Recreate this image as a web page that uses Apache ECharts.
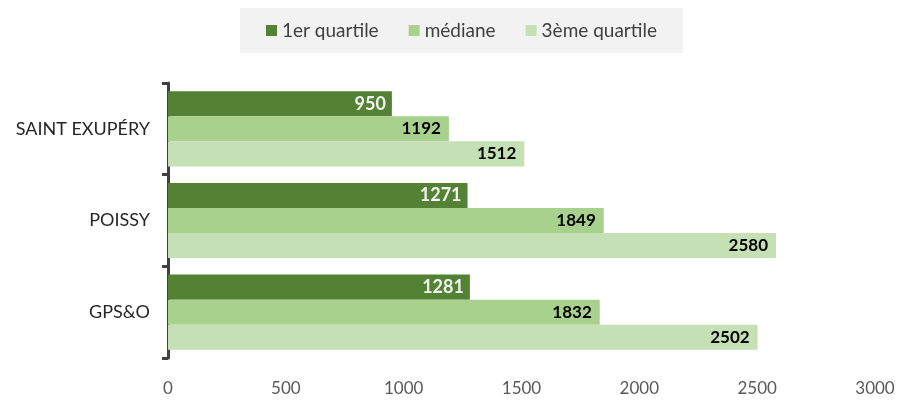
<!DOCTYPE html>
<html>
<head>
<meta charset="utf-8">
<script src="https://cdn.jsdelivr.net/npm/echarts@6/dist/echarts.min.js"></script>
<style>
  html, body { margin: 0; padding: 0; background: #fff; }
  #chart { width: 899px; height: 401px; }
</style>
</head>
<body>
<div id="chart"></div>
<script>
// données
const categories = ['SAINT EXUPÉRY', 'POISSY', 'GPS&O']
const q1 = [950, 1271, 1281]
const mediane = [1192, 1849, 1832]
const q3 = [1512, 2580, 2502]
const xTicks = [0, 500, 1000, 1500, 2000, 2500, 3000]

const font = 'Lato, "Open Sans", sans-serif'

let myChart = echarts.init(document.getElementById('chart'))
myChart.setOption({
  animation: false,
  textStyle: { fontFamily: font },
  legend: {
    top: 8,
    left: 240,
    itemWidth: 11,
    itemHeight: 11,
    itemGap: 30,
    padding: [13, 26, 13, 26],
    backgroundColor: '#f2f2f2',
    icon: 'rect',
    textStyle: { fontSize: 19, color: '#404040', fontFamily: font },
  },
  grid: { left: 168, right: 24, top: 83, bottom: 43 },
  xAxis: {
    type: 'value',
    min: xTicks[0],
    max: xTicks[xTicks.length - 1],
    interval: 500,
    splitLine: { show: false },
    axisLine: { show: false },
    axisTick: { show: false },
    axisLabel: { fontSize: 17, color: '#595959', margin: 22, formatter: (v) => String(v) },
  },
  yAxis: {
    type: 'category',
    data: categories,
    inverse: true,
    axisLine: { show: true, lineStyle: { color: '#404040', width: 3 } },
    axisTick: { show: true, length: 6, lineStyle: { color: '#404040', width: 3 } },
    axisLabel: { fontSize: 18, color: '#262626', margin: 18 },
  },
  series: [
    {
      name: '1er quartile',
      type: 'bar',
      data: q1,
      barGap: '0%',
      barCategoryGap: '18%',
      itemStyle: { color: '#548235' },
      label: { show: true, position: 'insideRight', color: '#f2f2f2', fontSize: 18, fontWeight: 'bold', distance: 6 },
    },
    {
      name: 'médiane',
      type: 'bar',
      data: mediane,
      barGap: '0%',
      barCategoryGap: '18%',
      itemStyle: { color: '#a9d18e' },
      label: { show: true, position: 'insideRight', color: '#000000', fontSize: 17, fontWeight: 'bold', distance: 8 },
    },
    {
      name: '3ème quartile',
      type: 'bar',
      data: q3,
      barGap: '0%',
      barCategoryGap: '18%',
      itemStyle: { color: '#c5e0b4' },
      label: { show: true, position: 'insideRight', color: '#000000', fontSize: 17, fontWeight: 'bold', distance: 8 },
    },
  ],
})
</script>
</body>
</html>
